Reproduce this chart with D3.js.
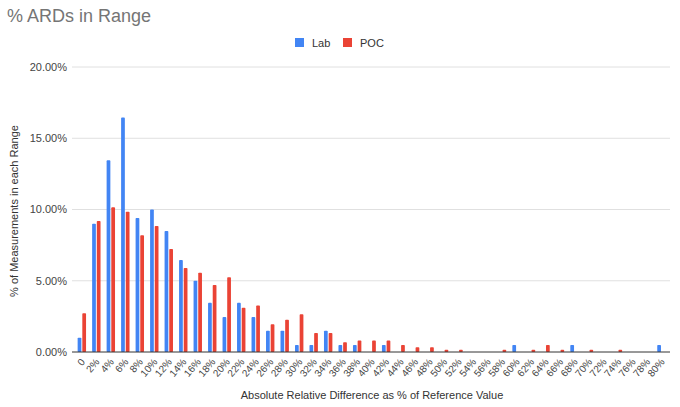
<!DOCTYPE html>
<html>
<head>
<meta charset="utf-8">
<script src="https://cdn.jsdelivr.net/npm/d3@7"></script>
<style>
  body { margin: 0; background: #fff; }
  text { font-family: "Liberation Sans", Arial, sans-serif; }
</style>
</head>
<body>
<div id="chart"></div>
<script>
// categories (x axis) and series values in percent
var categories = ["0"];
for (var k = 2; k <= 80; k += 2) categories.push(k + "%");

var labValues = [1.0, 9.0, 13.45, 16.45, 9.4, 10.0, 8.5, 6.45, 5.0, 3.45, 2.45, 3.45, 2.45, 1.5, 1.5, 0.5, 0.5, 1.5, 0.5, 0.5,
                 0, 0.5, 0, 0, 0, 0, 0, 0, 0, 0, 0.5, 0, 0, 0, 0.5, 0, 0, 0, 0, 0, 0.5];
var pocValues = [2.72, 9.2, 10.15, 9.85, 8.2, 8.85, 7.22, 5.9, 5.56, 4.71, 5.25, 3.1, 3.26, 1.95, 2.27, 2.65, 1.34, 1.34, 0.68, 0.8,
                 0.8, 0.8, 0.5, 0.33, 0.33, 0.15, 0.15, 0, 0, 0.15, 0, 0.15, 0.5, 0.15, 0, 0.15, 0, 0.15, 0, 0, 0];
var seriesNames = ["Lab", "POC"];
var seriesColors = ["#4285f4", "#ea4335"];
var yTicks = [0, 5, 10, 15, 20];

var width = 680, height = 407;
var margin = { top: 67, right: 11.3, bottom: 55, left: 74.6 };

var svg = d3.select("#chart")
    .append("svg")
    .attr("width", width)
    .attr("height", height);

// title
svg.append("text")
    .attr("x", 7)
    .attr("y", 22)
    .attr("font-size", 18)
    .attr("fill", "#757575")
    .text("% ARDs in Range");

// scales
var x0 = d3.scaleBand()
    .domain(categories)
    .range([margin.left, width - margin.right])
    .paddingInner(0.42)
    .paddingOuter(0.21);

var x1 = d3.scaleBand()
    .domain(seriesNames)
    .range([0, x0.bandwidth()])
    .paddingInner(0.2);

var yScale = d3.scaleLinear()
    .domain([0, 20])
    .range([height - margin.bottom, margin.top]);

// gridlines + y labels
var grid = svg.append("g").attr("class", "y axis");
yTicks.forEach(function (t) {
    if (t > 0) {
        grid.append("line")
            .attr("x1", 72).attr("x2", 670)
            .attr("y1", yScale(t)).attr("y2", yScale(t))
            .attr("stroke", "#e0e0e0")
            .attr("stroke-width", 1);
    }
    grid.append("text")
        .attr("x", 67)
        .attr("y", yScale(t))
        .attr("dy", "0.35em")
        .attr("text-anchor", "end")
        .attr("font-size", 11)
        .attr("fill", "#444")
        .text(t.toFixed(2) + "%");
});

// bars
var rows = categories.map(function (c, i) {
    return { cat: c, vals: [labValues[i], pocValues[i]] };
});

var groups = svg.selectAll(".group")
    .data(rows)
    .enter()
    .append("g")
    .attr("class", "group")
    .attr("transform", function (d) { return "translate(" + x0(d.cat) + ",0)"; });

groups.selectAll("rect")
    .data(function (d) {
        return d.vals.map(function (v, j) { return { name: seriesNames[j], value: v, color: seriesColors[j] }; });
    })
    .enter()
    .filter(function (d) { return d.value > 0; })
    .append("rect")
    .attr("x", function (d) { return x1(d.name); })
    .attr("y", function (d) { return yScale(d.value); })
    .attr("width", x1.bandwidth())
    .attr("height", function (d) { return yScale(0) - yScale(d.value); })
    .attr("rx", 0.8)
    .attr("fill", function (d) { return d.color; });

// baseline
svg.append("line")
    .attr("x1", 72).attr("x2", 670)
    .attr("y1", yScale(0)).attr("y2", yScale(0))
    .attr("stroke", "#333")
    .attr("stroke-width", 1);

// x tick labels
svg.append("g")
    .attr("class", "x axis")
    .selectAll("text")
    .data(categories)
    .enter()
    .append("text")
    .attr("transform", function (d) {
        return "translate(" + (x0(d) + x0.bandwidth() / 2 + 1) + "," + (yScale(0) + 8) + ") rotate(-50)";
    })
    .attr("dy", "0.35em")
    .attr("text-anchor", "end")
    .attr("font-size", 10)
    .attr("fill", "#444")
    .text(function (d) { return d; });

// axis titles
svg.append("text")
    .attr("x", 372)
    .attr("y", 399)
    .attr("text-anchor", "middle")
    .attr("font-size", 11)
    .attr("fill", "#333")
    .text("Absolute Relative Difference as % of Reference Value");

svg.append("text")
    .attr("transform", "translate(18,211) rotate(-90)")
    .attr("text-anchor", "middle")
    .attr("font-size", 11)
    .attr("fill", "#333")
    .text("% of Measurements in each Range");

// legend
var legend = svg.append("g");
var legendX = [295, 343];
seriesNames.forEach(function (name, i) {
    legend.append("rect")
        .attr("x", legendX[i]).attr("y", 38)
        .attr("width", 9).attr("height", 9)
        .attr("fill", seriesColors[i]);
    legend.append("text")
        .attr("x", legendX[i] + 17).attr("y", 47)
        .attr("font-size", 11)
        .attr("fill", "#333")
        .text(name);
});
</script>
</body>
</html>
